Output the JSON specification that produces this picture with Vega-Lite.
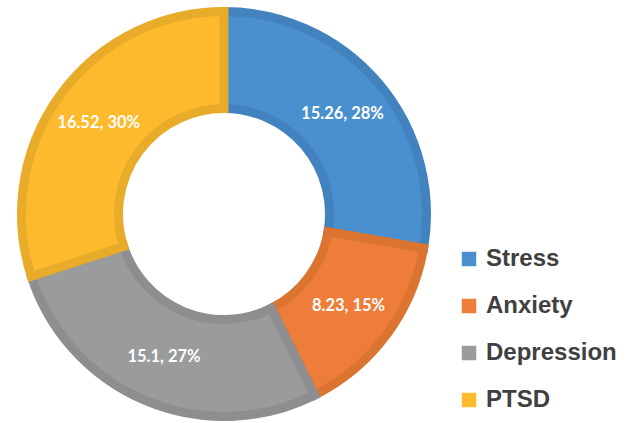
{
  "$schema": "https://vega.github.io/schema/vega-lite/v6.json",
  "width": 448,
  "height": 418,
  "autosize": {"type": "none"},
  "padding": {"left": 0, "top": 5, "right": 179, "bottom": 0},
  "background": "white",
  "data": {
    "values": [
      {"category": "Stress", "value": 15.26, "label": "15.26, 28%", "rank": 1},
      {"category": "Anxiety", "value": 8.23, "label": "8.23, 15%", "rank": 2},
      {"category": "Depression", "value": 15.1, "label": "15.1, 27%", "rank": 3},
      {"category": "PTSD", "value": 16.52, "label": "16.52, 30%", "rank": 4}
    ]
  },
  "encoding": {
    "theta": {"field": "value", "type": "quantitative", "stack": true},
    "order": {"field": "rank", "type": "quantitative"}
  },
  "layer": [
    {
      "mark": {"type": "arc", "outerRadius": 202.5, "innerRadius": 105.5, "strokeWidth": 9, "strokeJoin": "miter"},
      "encoding": {
        "fill": {
          "field": "category",
          "type": "nominal",
          "scale": {
            "domain": ["Stress", "Anxiety", "Depression", "PTSD"],
            "range": ["#4A90CF", "#EE7D39", "#999B9C", "#FDBA2C"]
          },
          "legend": {
            "title": null,
            "orient": "none",
            "legendX": 457,
            "legendY": 242,
            "symbolType": "square",
            "symbolSize": 210,
            "symbolStrokeWidth": 0,
            "labelFont": "Liberation Sans",
            "labelFontWeight": "bold",
            "labelFontSize": 24,
            "labelColor": "#404040",
            "labelOffset": 5,
            "rowPadding": 23,
            "padding": 0
          }
        },
        "stroke": {
          "field": "category",
          "type": "nominal",
          "scale": {
            "domain": ["Stress", "Anxiety", "Depression", "PTSD"],
            "range": ["#4282BE", "#DC7431", "#8C8E8F", "#E8AC2A"]
          },
          "legend": null
        }
      }
    },
    {
      "mark": {"type": "text", "radius": 155, "font": "Lato", "fontWeight": "bold", "fontSize": 16.5, "fill": "white"},
      "encoding": {"text": {"field": "label", "type": "nominal"}}
    }
  ],
  "config": {"view": {"stroke": null}}
}
